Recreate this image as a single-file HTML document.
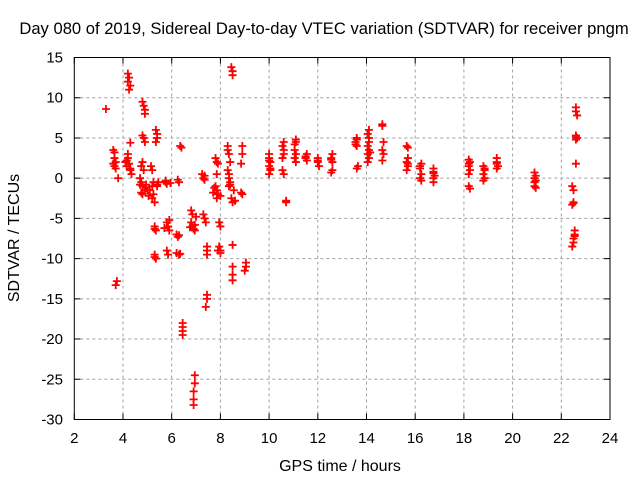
<!DOCTYPE html>
<html><head><meta charset="utf-8"><style>
body{margin:0;background:#fff;}
svg text{font-family:"Liberation Sans",sans-serif;font-size:15px;fill:#000;}
</style></head><body>
<svg width="640" height="480" viewBox="0 0 640 480">
<rect width="640" height="480" fill="#fff"/>
<g id="grid"></g>
<g id="pts"></g>
<rect x="74.3" y="57.5" width="535.7" height="362" fill="none" stroke="#000" stroke-width="1"/>
<g id="ticks"></g>
<text x="324" y="34" text-anchor="middle" style="font-size:16.6px">Day 080 of 2019, Sidereal Day-to-day VTEC variation (SDTVAR) for receiver pngm</text>
<text x="340" y="471" text-anchor="middle" style="font-size:16px">GPS time / hours</text>
<text x="0" y="0" text-anchor="middle" style="font-size:16px" transform="translate(19,238) rotate(-90)">SDTVAR / TECUs</text>
</svg>
<script>
const xTicks=[2,4,6,8,10,12,14,16,18,20,22,24];
const yTicks=[15,10,5,0,-5,-10,-15,-20,-25,-30];
const xVals=[3.3,3.6,3.65,3.7,3.6,3.65,3.8,3.75,3.7,
4.2,4.25,4.2,4.3,4.25,4.3,4.2,4.1,4.25,4.15,4.3,4.2,
4.8,4.85,4.9,4.9,4.8,4.85,4.9,4.8,4.75,4.85,4.7,4.75,4.8,4.9,4.95,4.8,
5.2,5.25,5.2,5.3,5.15,5.2,5.25,
5.35,5.4,5.4,5.35,5.3,5.35,5.3,5.35,5.4,5.45,
5.75,5.8,5.8,5.85,5.9,5.8,5.85,
6.2,6.25,6.3,6.25,6.3,6.2,6.35,6.4,
6.45,6.45,6.45,6.45,
6.8,6.85,6.85,6.9,6.95,6.95,6.95,6.9,6.9,6.9,
7.25,7.3,7.35,7.3,7.35,7.4,7.45,7.45,7.45,7.45,7.45,7.4,
7.8,7.85,7.9,7.85,7.8,7.85,7.9,7.85,7.95,8.0,7.95,8.0,8.0,
8.3,8.35,8.4,8.3,8.35,8.4,8.35,8.45,8.5,8.45,8.5,8.5,8.5,8.5,8.5,8.5,
8.9,8.9,8.85,8.9,9.05,9.05,9.0,8.85,
10.0,10.0,10.05,10.0,10.05,10.0,
10.6,10.55,10.6,10.55,10.55,10.6,10.7,10.7,
11.1,11.1,11.05,11.1,11.05,11.1,
11.55,11.5,11.55,
12.0,12.0,12.05,
12.6,12.55,12.6,12.6,12.55,
13.6,13.6,13.55,13.6,13.65,13.6,
14.1,14.05,14.1,14.05,14.1,14.05,14.1,14.05,
14.65,14.65,14.7,14.65,14.7,14.65,
15.65,15.7,15.7,15.65,15.7,15.65,
16.25,16.2,16.25,16.2,16.25,
16.75,16.75,16.8,16.75,16.75,
18.2,18.25,18.2,18.25,18.2,18.2,18.25,
18.8,18.85,18.8,18.85,18.8,
19.35,19.35,19.4,19.35,
20.9,20.95,20.9,20.9,20.9,20.95,
22.45,22.5,22.5,22.45,22.55,22.55,22.5,22.5,22.45,22.6,22.6,22.65,22.6,22.65,22.6,22.6,
3.65,3.7,4.15,4.3,4.35,4.7,4.75,4.95,5.0,5.05,5.1,5.3,5.4,5.3,5.7,5.75,5.9,5.95,6.3,6.35,
6.8,6.75,6.95,7.0,7.35,7.7,7.75,8.0,7.9,8.35,8.4,8.3,8.55,8.6,10.0,10.05,10.6,11.05,11.5,12.0,
12.55,13.55,14.1,14.15,15.7,16.2,16.75,18.2,18.85,19.35,20.95,22.5,22.55,22.6];
const yVals=[8.6,3.5,3.2,2,1.8,1.5,0,-12.8,-13.3,
13,12.5,12,11.5,11,4.4,2.5,2,1.8,1.5,1,3,
9.5,9,8.5,8,5.3,5,4.5,2,1.5,1,0,-0.5,-1,-1.5,-1.2,-2,
-1,-2,-2.5,-3,1.5,1,-0.5,
6,5.5,5,4.5,-6,-6.5,-9.5,-10,-1,-0.5,
-0.5,-0.7,-5.5,-6,-6.5,-9,-9.5,
-7,-7.3,-0.5,-0.2,-9.5,-9.3,4,3.8,
-18,-18.5,-19,-19.5,
-4,-4.5,-6,-6.3,-5.8,-24.5,-25.5,-26.5,-27.5,-28.2,
0.5,0,0.3,-4.5,-5,-5.5,-8.5,-9,-9.5,-14.5,-15,-16,
2.5,2,1.8,0.5,-1,-1.5,-2,-2.5,-5.5,-6,-8.5,-9,-9.3,
4,3,2,1,0,-0.5,-1,-2.5,-3,13.8,13.3,12.8,-8.3,-11,-12,-12.7,
4,3,-1.8,-2,-10.5,-11,-11.5,1.8,
3,2.5,2,1.5,1,0.5,
4.5,4,3,2.5,1,0.5,-2.8,-3,
4.8,4.5,3.5,3,2.5,2,
3,2.5,2.2,
2.5,2,1.5,
3,2.5,2,1,0.7,
5,4.8,4.5,4,1.5,1.2,
6,5.5,5,4,3.5,3,2.5,2,
6.7,6.5,4.5,3.5,3,2.2,
4,3.8,2.5,2,1.5,1,
1.8,1.5,0.5,0,-0.3,
1.2,0.8,0.3,0,-0.5,
2.3,2,1.5,1,0.5,-1,-1.3,
1.5,1,0.5,0,-0.3,
2.5,2,1.5,1.2,
0.7,0.3,0,-0.5,-1,-1.2,
-1,-1.5,-3,-3.3,-6.5,-7,-7.5,-8,-8.5,8.8,8.3,7.8,5.3,5,4.8,1.8,
2.5,1.2,2.2,1.2,0.5,-0.8,-1.8,-0.8,-1.5,-2.2,-1.5,-6.3,-0.8,-9.8,-6.2,-0.3,-5.2,-0.6,-7.1,-9.4,
-5.5,-6.1,-6.5,-4.8,-0.2,-1.8,-1.2,-2.2,-9,0.5,-0.8,3.5,-1.5,-2.8,2.2,1.2,3.5,4.2,2.7,2.2,
2.3,4.2,4.5,3.2,1.8,1.2,0.6,1.8,1.2,1.8,-0.3,-3.1,-7.2,5.1];
const NS="http://www.w3.org/2000/svg";
const X0=74.3,X1=610,Y0=419.5,Y1=57.5;
function sx(v){return X0+(v-2)/22*(X1-X0);}
function sy(v){return Y0-(v+30)/45*(Y0-Y1);}
const grid=document.getElementById('grid'),ticks=document.getElementById('ticks'),pts=document.getElementById('pts');
function mk(tag,attrs,parent){const e=document.createElementNS(NS,tag);for(const k in attrs)e.setAttribute(k,attrs[k]);parent.appendChild(e);return e;}
xTicks.forEach(t=>{
 const x=sx(t);
 if(t>2&&t<24){const g=mk('line',{x1:x,x2:x,y1:Y1,y2:Y0,stroke:'#a0a0a0','stroke-dasharray':'3,3'},grid);
 
 }
 const tk=mk('path',{d:`M${x},${Y0}v-6M${x},${Y1}v6`,stroke:'#000'},ticks);
 
 
 const l=mk('text',{x:x,y:443,'text-anchor':'middle'},ticks);l.textContent=t;
 
 
});
yTicks.forEach(t=>{
 const y=sy(t);
 if(t<15&&t>-30){const g=mk('line',{x1:X0,x2:X1,y1:y,y2:y,stroke:'#a0a0a0','stroke-dasharray':'3,3'},grid);
 
 }
 const tk=mk('path',{d:`M${X0},${y}h6M${X1},${y}h-6`,stroke:'#000'},ticks);
 
 
 const l=mk('text',{x:63,y:y+5,'text-anchor':'end'},ticks);l.textContent=t;
 
 
});
for(let i=0;i<xVals.length;i++){
 const x=sx(xVals[i]),y=sy(yVals[i]);
 const p=mk('path',{d:`M${x-4},${y}h8M${x},${y-4}v8`,stroke:'#ff0000','stroke-width':'1.8'},pts);
 
 
}
</script>
</body></html>
